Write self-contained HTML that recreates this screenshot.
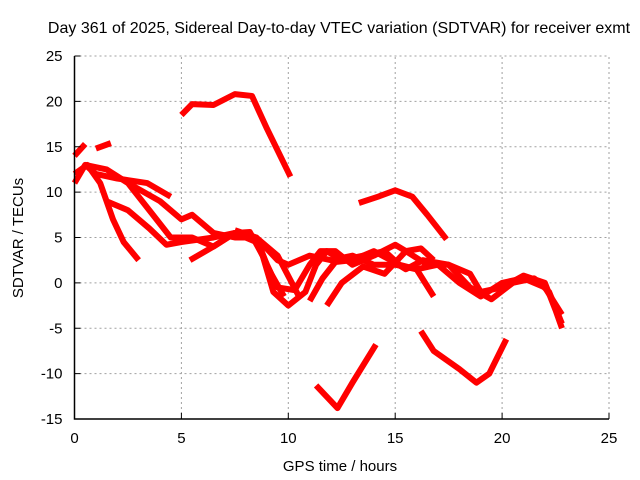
<!DOCTYPE html>
<html><head><meta charset="utf-8"><style>
body{margin:0;background:#fff;}
svg{display:block;font-family:"Liberation Sans",sans-serif;}
</style></head><body>
<svg id="chart" width="640" height="480" viewBox="0 0 640 480">
<text x="339" y="33" font-size="16" text-anchor="middle">Day 361 of 2025, Sidereal Day-to-day VTEC variation (SDTVAR) for receiver exmt</text>
<g id="grid"></g>
<g id="series"></g>
<g id="axes"></g>
<text x="340" y="471" font-size="15" text-anchor="middle">GPS time / hours</text>
<text transform="translate(23,238) rotate(-90)" font-size="15" text-anchor="middle">SDTVAR / TECUs</text>
</svg>
<script>
const xTicks=[0,5,10,15,20,25];
const yTicks=[-15,-10,-5,0,5,10,15,20,25];
const track1=[[5.0,18.5],[5.5,19.7],[6.5,19.6],[7.5,20.8],[8.3,20.6],[9.0,17],[10.1,11.7]];
const track2=[[13.3,8.8],[14.2,9.5],[15.0,10.2],[15.8,9.5],[16.5,7.5],[17.4,4.8]];
const track3=[[11.3,-11.3],[12.3,-13.8],[13.0,-11],[14.1,-6.8]];
const track4=[[16.2,-5.3],[16.8,-7.5],[18.0,-9.5],[18.8,-11],[19.4,-10],[20.2,-6.2]];
const track5=[[0,14],[0.5,15.3]];
const track6=[[1,14.8],[1.7,15.4]];
const track7=[[0,12],[0.6,13],[1.2,11],[1.8,7],[2.3,4.5],[3.0,2.5]];
const track8=[[0,11],[0.5,13],[1,12],[2,11.5],[3.4,11],[4.5,9.5]];
const track9=[[0.5,13],[1.5,12.5],[2.5,11],[3.5,8],[4.5,5],[5.5,5],[6.5,4],[7.5,5.5],[8.5,5],[9.5,3],[10.5,-1.5]];
const track10=[[2.5,11],[4,9],[5,7],[5.5,7.5],[6.5,5.5],[7.5,5],[8.5,5],[9.5,2.5],[10,2],[11,3],[12,2.5],[13,3],[14,2],[15,2],[16,1.5],[17,2],[18,0],[19,-1.5],[20,0],[21,0.5],[22,-0.5],[22.8,-3.5]];
const track11=[[5.4,2.5],[6.5,4],[7.5,5.5],[8.2,5.6],[8.8,3],[9.3,-1],[10,-2.5],[10.8,-1],[11.3,2],[11.8,3.5],[12.5,2.5],[13.5,3],[14.5,3.5],[15.2,2],[16,1.5],[16.8,-1.5]];
const track12=[[7.5,5.8],[8.5,5],[9.0,2],[9.5,-0.5],[10.3,-0.8],[11,2],[11.5,3.5],[12.2,3.5],[13,2],[14,3],[15,4.2],[15.5,3.5],[16.5,2],[17.5,2],[18.5,-0.5],[19.5,-1.8],[20.5,0],[21.5,0.5],[22.2,-1],[22.8,-4.5]];
const track13=[[11,-2],[11.6,0.5],[12.2,2.3],[13,2.5],[14,3.5],[14.8,2.5],[15.5,1.5],[16.3,2.5],[17.5,2],[18.5,1],[19,-1],[20,-0.5],[21,0.8],[22,0],[22.5,-3],[22.8,-5]];
const track14=[[11.8,-2.5],[12.5,0],[13.5,1.8],[14.5,1],[15.5,3.5],[16.2,3.8],[16.8,2.5]];
const track15=[[1.5,9],[2.5,8],[3.5,6],[4.3,4.2],[5,4.5],[6.5,5],[7.5,5.5],[8.5,4.5],[9.2,1],[9.8,-1.5]];
const tracks=[track1,track2,track3,track4,track5,track6,track7,track8,track9,track10,track11,track12,track13,track14,track15];
const X0=74.5,X1=609,Y0=419,Y1=56,xmin=0,xmax=25,ymin=-15,ymax=25;
const sx=v=>X0+(v-xmin)/(xmax-xmin)*(X1-X0);
const sy=v=>Y0-(v-ymin)/(ymax-ymin)*(Y0-Y1);
const NS="http://www.w3.org/2000/svg";
const grid=document.getElementById('grid'),axes=document.getElementById('axes'),ser=document.getElementById('series');
function mk(t,a,p){const e=document.createElementNS(NS,t);for(const k in a)e.setAttribute(k,a[k]);p.appendChild(e);return e;}
xTicks.forEach(v=>{
 if(v>0){const l=mk('line',{x1:sx(v),x2:sx(v),y1:Y0,y2:Y1,stroke:'#a0a0a0','stroke-dasharray':'2,3'},grid);
 
 }
 const t=mk('text',{x:sx(v),y:Y0+24,'font-size':15,'text-anchor':'middle'},axes);t.textContent=v;
 
 
 const tk=mk('line',{x1:sx(v),x2:sx(v),y1:Y0,y2:Y0-6,stroke:'#000'},axes);
 
 
});
yTicks.forEach(v=>{
 if(v>ymin){const l=mk('line',{x1:X0,x2:X1,y1:sy(v),y2:sy(v),stroke:'#a0a0a0','stroke-dasharray':'2,3'},grid);
 
 }
 const t=mk('text',{x:X0-12,y:sy(v)+5,'font-size':15,'text-anchor':'end'},axes);t.textContent=v;
 
 
 const tk=mk('line',{x1:X0,x2:X0+6,y1:sy(v),y2:sy(v),stroke:'#000'},axes);
 
 
});
const ax=mk('path',{d:`M${X0},${Y1}V${Y0}H${X1}`,stroke:'#000','stroke-width':1.5,fill:'none'},axes);


tracks.forEach(tr=>{
 const p=mk('polyline',{points:tr.map(d=>sx(d[0])+','+sy(d[1])).join(' '),stroke:'#ff0000','stroke-width':6,fill:'none','stroke-linejoin':'round','stroke-linecap':'butt'},ser);
 
 
});
</script>
</body></html>
